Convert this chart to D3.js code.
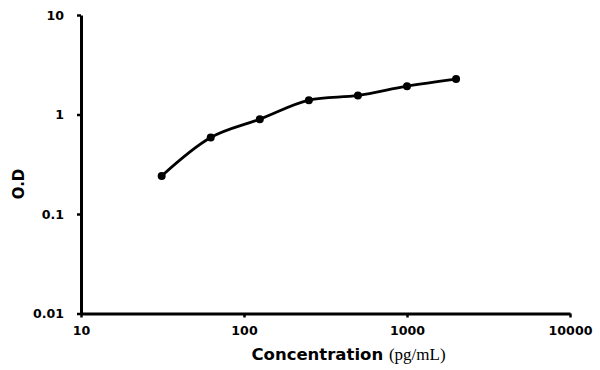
<!DOCTYPE html>
<html><head><meta charset="utf-8">
<script src="https://cdn.jsdelivr.net/npm/d3@7"></script>
<style>body{margin:0;background:#fff}</style>
</head><body>
<svg id="c" width="600" height="370"></svg>
<script>
const concentrations = [31.25, 62.5, 125, 250, 500, 1000, 2000];
const odValues = [0.241, 0.587, 0.897, 1.393, 1.554, 1.927, 2.268];
const xTicks = [10, 100, 1000, 10000];
const yTicks = [0.01, 0.1, 1, 10];
const xTickLabels = ["10", "100", "1000", "10000"];
const yTickLabels = ["0.01", "0.1", "1", "10"];

const svg = d3.select("#c");
const x = d3.scaleLog().domain([10, 10000]).range([81, 570]);
const y = d3.scaleLog().domain([0.01, 10]).range([313.5, 15]);
const tickFont = "'DejaVu Sans', sans-serif";

const xa = svg.append("g").attr("transform", "translate(0,313.5)")
  .call(d3.axisBottom(x).tickValues(xTicks).tickFormat((d,i)=>xTickLabels[i]).tickSize(4).tickSizeOuter(0).tickPadding(9));
const ya = svg.append("g").attr("transform", "translate(81,0)")
  .call(d3.axisLeft(y).tickValues(yTicks).tickFormat((d,i)=>yTickLabels[i]).tickSize(4).tickSizeOuter(0).tickPadding(13));
[xa, ya].forEach(a => {
  a.select(".domain").attr("stroke", "#000").attr("stroke-width", 3);
  a.selectAll(".tick line").attr("stroke", "#000").attr("stroke-width", 2.5);
  a.selectAll(".tick text").attr("fill", "#000").style("font-family", tickFont)
    .style("font-weight", "bold").style("font-size", "12.6px");
});

const line = d3.line().x((d,i)=>x(concentrations[i])).y(d=>y(d)).curve(d3.curveCatmullRom.alpha(0.5));
svg.append("path").datum(odValues).attr("d", line).attr("fill", "none")
  .attr("stroke", "#000").attr("stroke-width", 2.8);
svg.selectAll("circle.pt").data(odValues).enter().append("circle").attr("class","pt")
  .attr("cx", (d,i)=>x(concentrations[i])).attr("cy", d=>y(d)).attr("r", 4).attr("fill", "#000");

const xl = svg.append("text").attr("x", 348.5).attr("y", 360).attr("text-anchor", "middle").attr("fill", "#000");
xl.append("tspan").text("Concentration ").style("font-family", tickFont).style("font-weight", "bold").style("font-size", "16.5px");
xl.append("tspan").text("(pg/mL)").style("font-family", "'Liberation Serif', serif").style("font-size", "17px");

svg.append("text").attr("transform", "translate(24,184) rotate(-90)").attr("text-anchor", "middle")
  .style("font-family", tickFont).style("font-weight", "bold").style("font-size", "15px").attr("fill", "#000").text("O.D");
</script>
</body></html>
